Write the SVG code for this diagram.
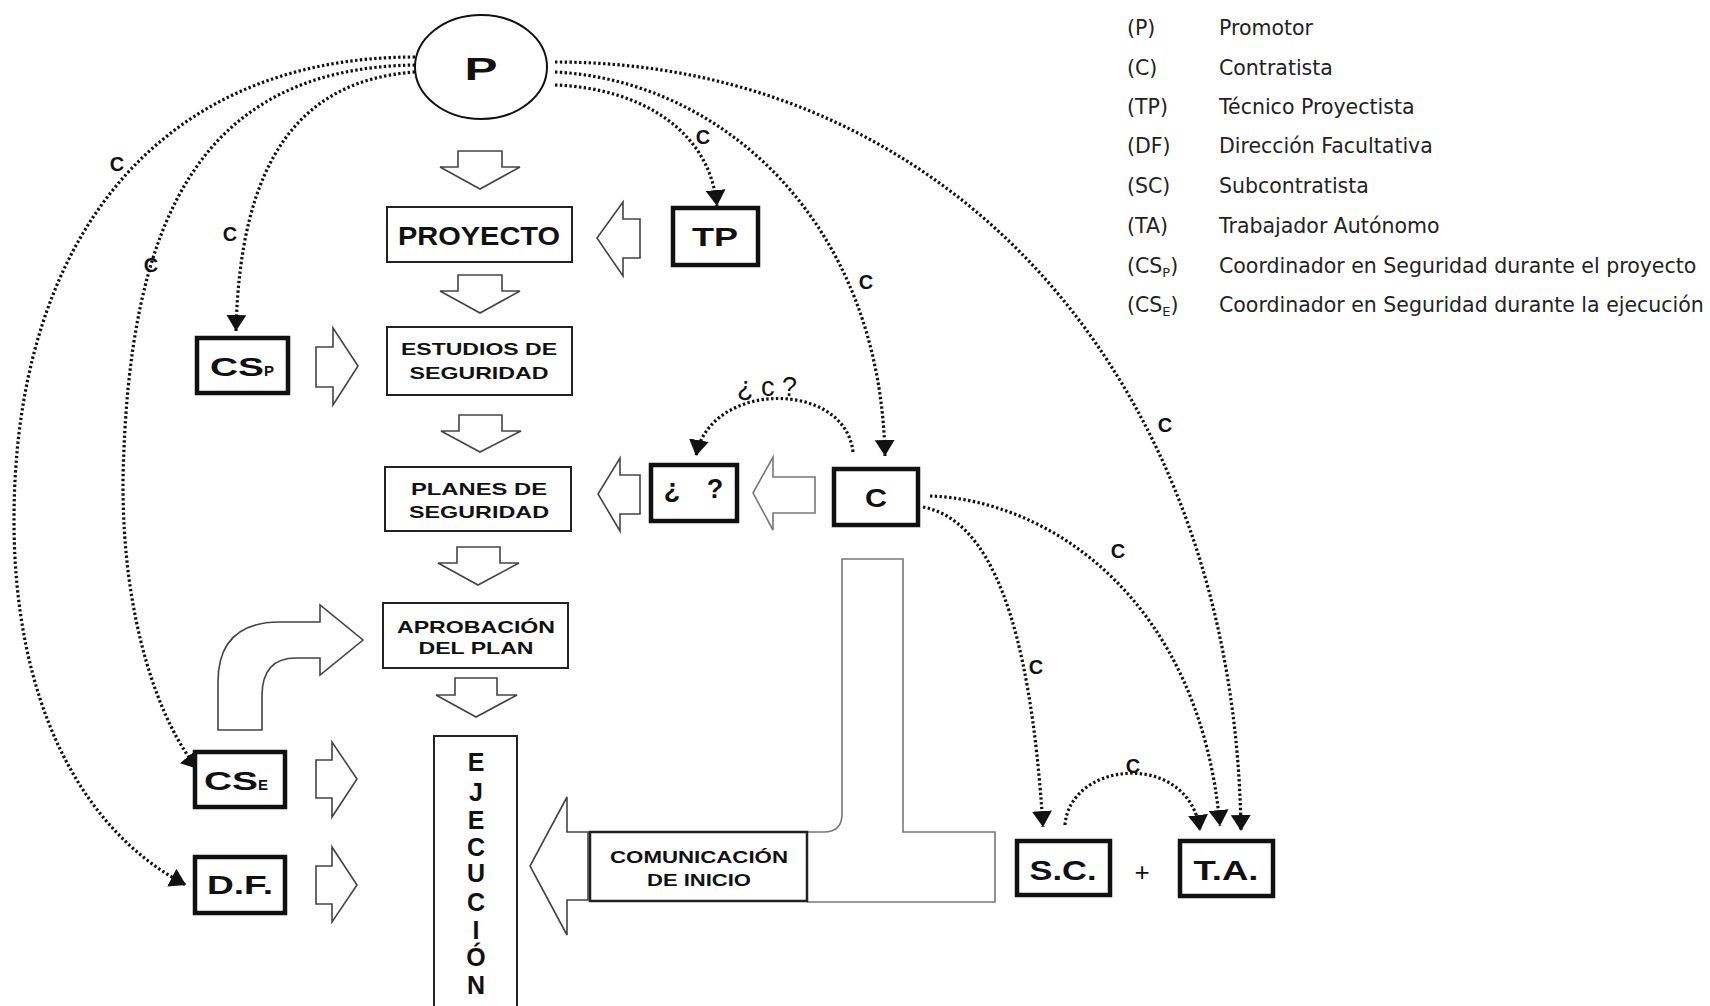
<svg xmlns="http://www.w3.org/2000/svg" width="1710" height="1006" viewBox="0 0 1710 1006">
<style>
.bx{fill:#fff;stroke:#222;stroke-width:2}
.tk{fill:#fff;stroke:#111;stroke-width:4.5}
.ba{fill:#fff;stroke:#444;stroke-width:1.6;stroke-linejoin:miter}
.bg{fill:#fff;stroke:#777;stroke-width:1.6}
.dl{fill:none;stroke:#111;stroke-width:3.2;stroke-dasharray:2.4 2.4}
.t{font-family:"Liberation Sans",Arial,sans-serif;font-weight:bold;fill:#111;text-anchor:middle}
.lb{font-family:"Liberation Sans",Arial,sans-serif;font-weight:bold;fill:#111;font-size:20px;text-anchor:middle}
.lg{font-family:"DejaVu Sans",Verdana,sans-serif;font-size:20.5px;fill:#222}
</style>
<defs>
<marker id="ah" viewBox="0 0 16 20" refX="16" refY="10" markerWidth="16" markerHeight="20" markerUnits="userSpaceOnUse" orient="auto">
<path d="M0,0 L16,10 L0,20 Z" fill="#111"/>
</marker>
</defs>
<rect width="1710" height="1006" fill="#fff"/>

<g id="legend">
<text class="lg" x="1127" y="35">(P)</text><text class="lg" x="1219" y="35">Promotor</text>
<text class="lg" x="1127" y="75">(C)</text><text class="lg" x="1219" y="75">Contratista</text>
<text class="lg" x="1127" y="114">(TP)</text><text class="lg" x="1219" y="114">Técnico Proyectista</text>
<text class="lg" x="1127" y="153">(DF)</text><text class="lg" x="1219" y="153">Dirección Facultativa</text>
<text class="lg" x="1127" y="193">(SC)</text><text class="lg" x="1219" y="193">Subcontratista</text>
<text class="lg" x="1127" y="233">(TA)</text><text class="lg" x="1219" y="233">Trabajador Autónomo</text>
<text class="lg" x="1127" y="273">(CS<tspan font-size="13" dy="4">P</tspan><tspan dy="-4">)</tspan></text><text class="lg" x="1219" y="273">Coordinador en Seguridad durante el proyecto</text>
<text class="lg" x="1127" y="312">(CS<tspan font-size="13" dy="4">E</tspan><tspan dy="-4">)</tspan></text><text class="lg" x="1219" y="312">Coordinador en Seguridad durante la ejecución</text>
</g>

<g id="flow-arrows">
<path class="ba" d="M458 151 H502 V167 H520 L480 189 L440 167 H458 Z"/>
<path class="ba" d="M458 275 H502 V291 H520 L480 313 L440 291 H458 Z"/>
<path class="ba" d="M459 415 H502 V431 H521 L480 452 L441 431 H459 Z"/>
<path class="ba" d="M457 547 H500 V563 H519 L478 585 L438 563 H457 Z"/>
<path class="ba" d="M455 678 H497 V695 H517 L476 717 L436 695 H455 Z"/>
<path class="ba" d="M640 219 V258 H623 V276 L597 238 L623 202 V219 Z"/>
<path class="ba" d="M640 475 V514 H620 V531 L598 494 L620 458 V475 Z"/>
<path class="bg" d="M815 477 V513 H773 V530 L753 493 L773 457 V477 Z"/>
<path class="ba" d="M316 347 H333 V328 L358 366 L333 405 V387 H316 Z"/>
<path class="ba" d="M316 760 H332 V742 L357 779 L332 817 V798 H316 Z"/>
<path class="ba" d="M316 866 H332 V847 L357 885 L332 922 V904 H316 Z"/>
<path class="ba" d="M218 730 V682 Q218 622 280 622 H320 V605 L363 640 L320 675 V658 H296 Q262 658 262 696 V730 Z"/>
<path class="ba" d="M588 832 H567 V797 L530 866 L567 935 V900 H588 Z"/>
<path class="bg" d="M807 832 H824 Q842 832 842 814 V559 H903 V832 H995 V902 H807"/>
</g>

<g id="connectors">
<path class="dl" d="M415 57 C150 57 14 250 14 520 C14 700 80 830 186 885" marker-end="url(#ah)"/>
<path class="dl" d="M415 65 C200 68 128 220 123 480 C122 620 160 724 198 769" marker-end="url(#ah)"/>
<path class="dl" d="M415 72 C300 80 240 160 236 331" marker-end="url(#ah)"/>
<path class="dl" d="M555 85 C640 88 710 130 717 206" marker-end="url(#ah)"/>
<path class="dl" d="M555 72 C720 80 880 220 885 456" marker-end="url(#ah)"/>
<path class="dl" d="M555 62 C950 62 1235 380 1241 831" marker-end="url(#ah)"/>
<path class="dl" d="M930 496 C1050 500 1200 600 1220 826" marker-end="url(#ah)"/>
<path class="dl" d="M923 507 C990 520 1030 620 1043 827" marker-end="url(#ah)"/>
<path class="dl" d="M1065 825 C1070 760 1190 750 1200 831" marker-end="url(#ah)"/>
<path class="dl" d="M853 452 C845 380 710 380 696 456" marker-end="url(#ah)"/>
<text class="lb" x="117" y="171">C</text>
<text class="lb" x="151" y="272">C</text>
<text class="lb" x="230" y="241">C</text>
<text class="lb" x="703" y="144">C</text>
<text class="lb" x="866" y="289">C</text>
<text class="lb" x="1165" y="432">C</text>
<text class="lb" x="1118" y="558">C</text>
<text class="lb" x="1036" y="674">C</text>
<text class="lb" x="1133" y="773">C</text>
<text x="767" y="396" font-family="Liberation Sans, Arial, sans-serif" font-size="27" fill="#111" text-anchor="middle">¿ c ?</text>
</g>

<g id="node-P">
<ellipse cx="481" cy="67" rx="66" ry="52" fill="#fff" stroke="#111" stroke-width="2"/>
<text class="t" x="481" y="80" font-size="31" textLength="33" lengthAdjust="spacingAndGlyphs">P</text>
</g>
<g id="node-proyecto">
<rect class="bx" x="387" y="207" width="185" height="55"/>
<text class="t" x="479" y="245" font-size="26" textLength="162" lengthAdjust="spacingAndGlyphs">PROYECTO</text>
</g>
<g id="node-TP">
<rect class="tk" x="673" y="208" width="85" height="57"/>
<text class="t" x="715" y="246" font-size="26" textLength="46" lengthAdjust="spacingAndGlyphs">TP</text>
</g>
<g id="node-estudios">
<rect class="bx" x="387" y="327" width="185" height="68"/>
<text class="t" x="479" y="355" font-size="17" textLength="156" lengthAdjust="spacingAndGlyphs">ESTUDIOS DE</text>
<text class="t" x="479" y="379" font-size="17" textLength="139" lengthAdjust="spacingAndGlyphs">SEGURIDAD</text>
</g>
<g id="node-CSP">
<rect class="tk" x="197" y="338" width="91" height="55"/>
<text class="t" x="242" y="376" font-size="26"><tspan textLength="54" lengthAdjust="spacingAndGlyphs">CS</tspan><tspan font-size="15">P</tspan></text>
</g>
<g id="node-planes">
<rect class="bx" x="385" y="467" width="186" height="64"/>
<text class="t" x="479" y="495" font-size="17" textLength="136" lengthAdjust="spacingAndGlyphs">PLANES DE</text>
<text class="t" x="479" y="518" font-size="17" textLength="140" lengthAdjust="spacingAndGlyphs">SEGURIDAD</text>
</g>
<g id="node-unknown">
<rect class="tk" x="651" y="465" width="86" height="56"/>
<text class="t" x="672" y="498" font-size="27">¿</text>
<text class="t" x="715" y="498" font-size="27">?</text>
</g>
<g id="node-C">
<rect class="tk" x="834" y="469" width="84" height="56"/>
<text class="t" x="876" y="507" font-size="26" textLength="22" lengthAdjust="spacingAndGlyphs">C</text>
</g>
<g id="node-aprobacion">
<rect class="bx" x="383" y="603" width="185" height="65"/>
<text class="t" x="476" y="633" font-size="17" textLength="158" lengthAdjust="spacingAndGlyphs">APROBACIÓN</text>
<text class="t" x="476" y="654" font-size="17" textLength="115" lengthAdjust="spacingAndGlyphs">DEL PLAN</text>
</g>
<g id="node-ejecucion">
<rect class="bx" x="434" y="736" width="83" height="280"/>
<g class="t" font-size="25">
<text x="476" y="771">E</text>
<text x="476" y="801">J</text>
<text x="476" y="829">E</text>
<text x="476" y="856">C</text>
<text x="476" y="882">U</text>
<text x="476" y="911">C</text>
<text x="476" y="939">I</text>
<text x="476" y="966">Ó</text>
<text x="476" y="994">N</text>
</g>
</g>
<g id="node-CSE">
<rect class="tk" x="195" y="752" width="90" height="55"/>
<text class="t" x="236" y="790" font-size="26"><tspan textLength="54" lengthAdjust="spacingAndGlyphs">CS</tspan><tspan font-size="15">E</tspan></text>
</g>
<g id="node-DF">
<rect class="tk" x="195" y="857" width="90" height="56"/>
<text class="t" x="240" y="894" font-size="26" textLength="66" lengthAdjust="spacingAndGlyphs">D.F.</text>
</g>
<g id="node-comunicacion">
<rect x="590" y="832" width="217" height="69" fill="#fff" stroke="#222" stroke-width="2.5"/>
<text class="t" x="699" y="863" font-size="17" textLength="178" lengthAdjust="spacingAndGlyphs">COMUNICACIÓN</text>
<text class="t" x="699" y="886" font-size="17" textLength="104" lengthAdjust="spacingAndGlyphs">DE INICIO</text>
</g>
<g id="node-SC">
<rect class="tk" x="1017" y="841" width="93" height="54"/>
<text class="t" x="1063" y="880" font-size="27" textLength="67" lengthAdjust="spacingAndGlyphs">S.C.</text>
</g>
<text x="1142" y="881" font-family="Liberation Sans, Arial, sans-serif" font-size="26" fill="#111" text-anchor="middle">+</text>
<g id="node-TA">
<rect class="tk" x="1180" y="841" width="93" height="55"/>
<text class="t" x="1226" y="880" font-size="27" textLength="65" lengthAdjust="spacingAndGlyphs">T.A.</text>
</g>
</svg>
